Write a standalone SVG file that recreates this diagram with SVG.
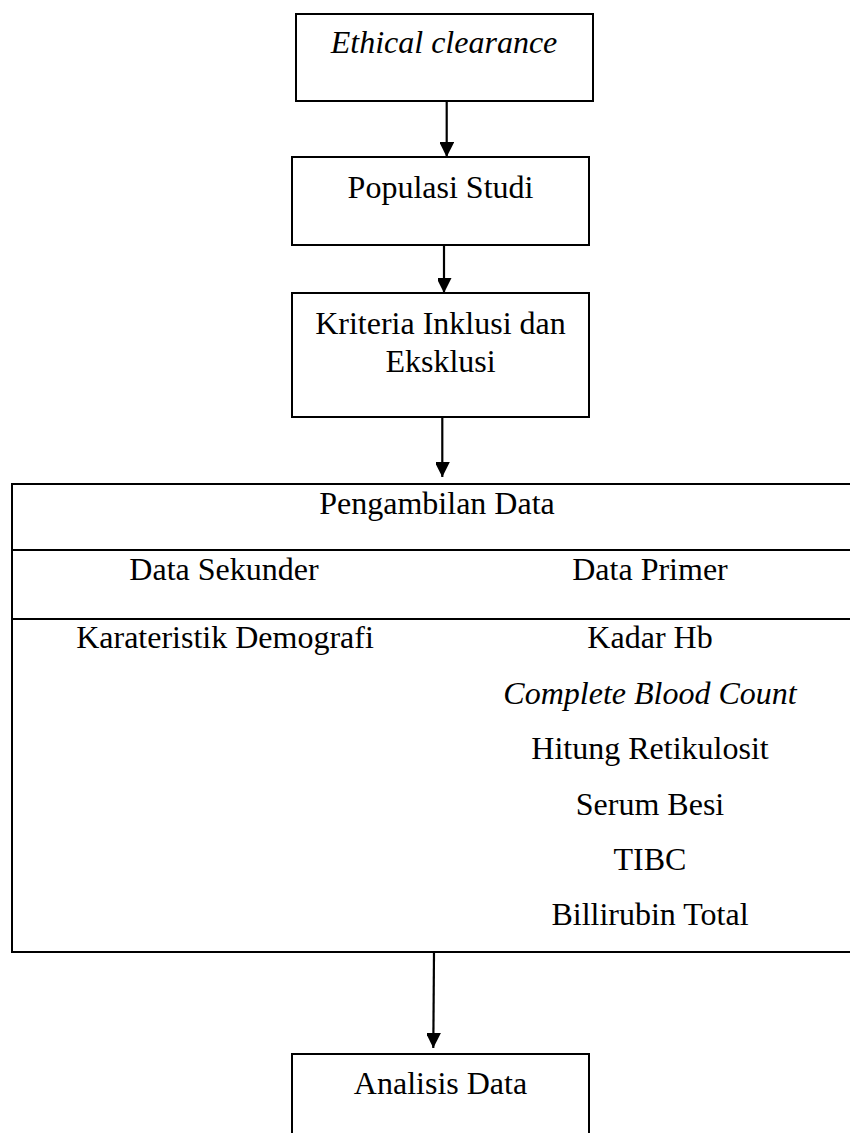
<svg xmlns="http://www.w3.org/2000/svg" width="850" height="1133" viewBox="0 0 850 1133">
<style>
.box{fill:#fff;stroke:#000;stroke-width:2}
.t{font-family:"Liberation Serif","Times New Roman",serif;font-size:32px;fill:#000;text-anchor:middle}
.i{font-style:italic}
.c{stroke:#000;stroke-width:2.2;fill:none}
</style>
<defs>
<marker id="ah" markerUnits="userSpaceOnUse" markerWidth="16" markerHeight="14" refX="15" refY="7.5" orient="auto">
<path d="M0,0 L15,7.5 L0,15 Z" fill="#000"/>
</marker>
</defs>
<rect width="850" height="1133" fill="#fff"/>
<g id="ethical">
<rect class="box" x="296" y="14" width="297" height="87"/>
<text class="t i" x="444" y="53">Ethical clearance</text>
</g>
<g id="populasi">
<rect class="box" x="292" y="157" width="297" height="88"/>
<text class="t" x="440.5" y="198">Populasi Studi</text>
</g>
<g id="kriteria">
<rect class="box" x="292" y="293" width="297" height="124"/>
<text class="t" x="440.5" y="334">Kriteria Inklusi dan</text>
<text class="t" x="440.5" y="372">Eksklusi</text>
</g>
<g id="pengambilan">
<path class="box" d="M852,484 H12 V952 H852" fill="none"/>
<line x1="12" y1="550" x2="852" y2="550" stroke="#000" stroke-width="2"/>
<line x1="12" y1="619" x2="852" y2="619" stroke="#000" stroke-width="2"/>
<text class="t" x="437" y="514">Pengambilan Data</text>
<text class="t" x="224" y="580">Data Sekunder</text>
<text class="t" x="650" y="580">Data Primer</text>
<text class="t" x="225" y="648">Karateristik Demografi</text>
<text class="t" x="650" y="648">Kadar Hb</text>
<text class="t i" x="650" y="704">Complete Blood Count</text>
<text class="t" x="650" y="759">Hitung Retikulosit</text>
<text class="t" x="650" y="815">Serum Besi</text>
<text class="t" x="650" y="870">TIBC</text>
<text class="t" x="650" y="925">Billirubin Total</text>
</g>
<g id="analisis">
<rect class="box" x="292" y="1054" width="297" height="100" stroke-width="1.6"/>
<text class="t" x="440.5" y="1094">Analisis Data</text>
</g>
<g id="connectors">
<line class="c" x1="446.7" y1="101" x2="446.7" y2="157" marker-end="url(#ah)"/>
<line class="c" x1="444" y1="245" x2="444" y2="293" marker-end="url(#ah)"/>
<line class="c" x1="442.3" y1="417" x2="442.3" y2="477" marker-end="url(#ah)"/>
<line class="c" x1="434" y1="952" x2="433.3" y2="1048" marker-end="url(#ah)"/>
</g>
</svg>
